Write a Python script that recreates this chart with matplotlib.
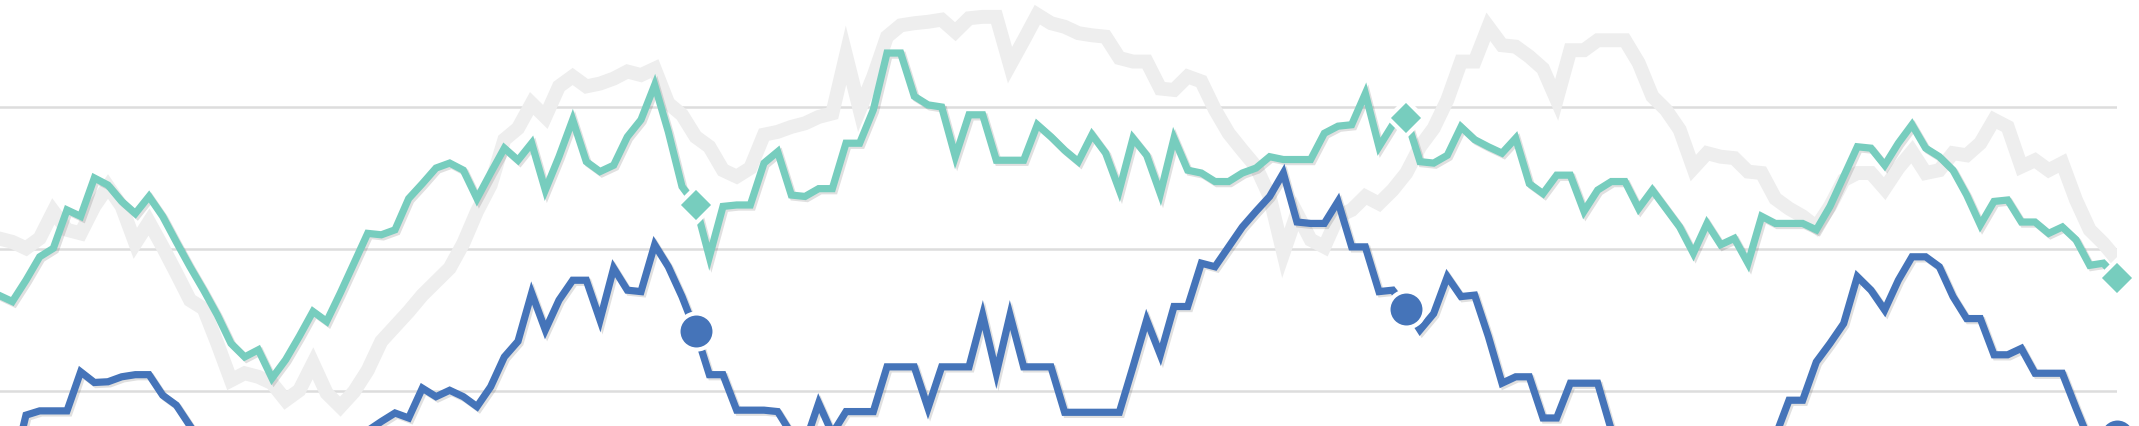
import numpy as np
import matplotlib
matplotlib.use("Agg")
import matplotlib.pyplot as plt
import matplotlib.patheffects as pe

# valeurs (gridlines a 20 / 40 / 60)
teal = [34.5, 33.5, 32.6, 35.6, 38.9, 40.1, 45.5, 44.6, 50.0, 49.0,
        46.7, 45.0, 47.4, 44.6, 41.0, 37.5, 34.2, 30.7, 26.7, 24.8,
        25.8, 21.8, 24.4, 27.7, 31.2, 29.8, 33.8, 38.0, 42.2, 42.0,
        42.7, 47.1, 49.2, 51.4, 52.1, 51.1, 47.1, 50.7, 54.2, 52.5,
        54.9, 48.3, 53.0, 58.2, 52.3, 50.9, 51.8, 55.8, 58.2, 63.1,
        56.5, 48.8, 46.2, 38.9, 46.0, 46.2, 46.2, 52.1, 53.7, 47.6,
        47.4, 48.5, 48.5, 54.9, 54.9, 59.6, 67.6, 67.6, 61.5, 60.3,
        60.0, 53.0, 58.9, 58.9, 52.5, 52.5, 52.5, 57.5, 55.8, 53.9,
        52.3, 56.1, 53.5, 48.3, 55.6, 53.2, 47.8, 55.6, 51.1, 50.7,
        49.5, 49.5, 50.7, 51.4, 53.0, 52.6, 52.6, 52.6, 56.3, 57.3,
        57.5, 61.9, 54.4, 57.5, 58.4, 52.3, 52.1, 53.2, 57.2, 55.4,
        54.4, 53.5, 55.6, 49.2, 47.8, 50.4, 50.4, 45.3, 48.3, 49.5,
        49.5, 45.7, 48.3, 45.7, 43.1, 39.4, 43.6, 40.6, 41.5, 38.0,
        44.6, 43.6, 43.6, 43.6, 42.7, 46.0, 50.2, 54.4, 54.2, 51.8,
        54.9, 57.5, 54.2, 53.0, 51.1, 47.6, 43.4, 46.7, 46.9, 43.8,
        43.8, 42.2, 43.1, 41.3, 37.7, 38.0, 35.9]

grey = [41.0, 41.5, 41.0, 40.1, 41.5, 45.3, 42.7, 42.2, 46.0, 48.8,
        46.0, 40.8, 43.8, 40.3, 36.6, 32.8, 31.6, 26.7, 21.5, 22.5,
        22.0, 21.1, 18.7, 20.1, 23.9, 19.7, 17.8, 19.9, 22.9, 27.0,
        29.1, 31.2, 33.5, 35.4, 37.3, 40.8, 45.3, 49.0, 55.4, 57.0,
        60.5, 58.6, 62.9, 64.3, 62.9, 63.3, 64.0, 65.0, 64.5, 65.4,
        60.5, 58.9, 55.8, 54.4, 51.1, 50.2, 51.4, 56.1, 56.5, 57.2,
        57.7, 58.6, 59.1, 67.3, 59.6, 64.3, 69.9, 71.5, 71.8, 72.0,
        72.3, 70.6, 72.5, 72.7, 72.7, 65.9, 69.4, 73.0, 71.8, 71.3,
        70.4, 70.1, 69.9, 66.9, 66.4, 66.4, 62.6, 62.4, 64.3, 63.6,
        59.6, 56.3, 53.9, 51.6, 47.4, 39.4, 45.0, 41.3, 40.3, 44.6,
        45.5, 47.4, 46.4, 48.3, 50.7, 54.4, 57.0, 61.0, 66.4, 66.4,
        71.3, 68.7, 68.5, 67.1, 65.4, 61.0, 68.0, 68.0, 69.4, 69.4,
        69.4, 66.2, 61.5, 59.6, 56.8, 51.4, 53.5, 53.0, 52.8, 50.9,
        50.7, 47.1, 45.7, 44.6, 43.1, 46.0, 49.7, 50.7, 50.7, 48.5,
        51.4, 53.7, 50.7, 51.1, 53.5, 53.2, 54.9, 58.2, 57.2, 51.6,
        52.5, 51.1, 52.1, 46.9, 42.7, 40.8, 38.5]

blue = [6.5, 7.5, 8.7, 16.6, 17.2, 17.2, 17.2, 22.7, 21.2, 21.3,
        22.0, 22.3, 22.3, 19.4, 18.0, 15.1, 12.0, 10.8, 9.5, 8.7,
        8.0, 8.5, 7.8, 8.8, 9.5, 10.3, 11.2, 12.4, 14.4, 15.7,
        16.9, 16.2, 20.4, 19.2, 20.1, 19.2, 17.8, 20.6, 24.8, 27.0,
        33.8, 28.6, 32.8, 35.6, 35.6, 30.0, 37.3, 34.2, 34.0, 40.6,
        37.5, 33.3, 28.4, 22.3, 22.3, 17.3, 17.3, 17.3, 17.1, 14.0,
        12.6, 18.3, 14.0, 17.1, 17.1, 17.1, 23.4, 23.4, 23.4, 17.6,
        23.4, 23.4, 23.4, 30.7, 22.5, 30.7, 23.4, 23.4, 23.4, 17.0,
        17.0, 17.0, 17.0, 17.0, 23.4, 30.0, 25.1, 31.9, 31.9, 38.0,
        37.5, 40.3, 43.1, 45.3, 47.4, 50.7, 43.8, 43.6, 43.6, 46.7,
        40.3, 40.3, 34.0, 34.2, 31.6, 28.6, 30.9, 36.1, 33.3, 33.5,
        27.7, 21.1, 22.0, 22.0, 16.2, 16.2, 21.1, 21.1, 21.1, 14.5,
        12.0, 10.5, 9.8, 10.6, 9.4, 8.8, 9.9, 10.8, 11.6, 12.3,
        12.9, 13.6, 18.7, 18.7, 24.1, 26.7, 29.5, 36.1, 34.2, 31.4,
        35.6, 38.9, 38.9, 37.5, 33.3, 30.2, 30.2, 25.1, 25.1, 26.0,
        22.5, 22.5, 22.5, 17.6, 12.9, 12.5, 13.7]

marker_idx = [52, 104, 156]

teal_color = '#77CDBE'
blue_color = '#4574B9'
grey_color = '#EEEEEE'

x = np.arange(len(teal))

fig = plt.figure(figsize=(21.39, 4.26), dpi=100)
ax = fig.add_axes([0, 0, 2117 / 2139, 1])

shadow = [pe.SimpleLineShadow(offset=(1.5, -1.5), shadow_color='black', alpha=0.12), pe.Normal()]

ax.plot(x, grey, color=grey_color, lw=10, solid_joinstyle='miter', zorder=2)
ax.plot(x, teal, color=teal_color, lw=5.2, solid_joinstyle='miter', zorder=3, path_effects=shadow)
ax.plot(x, blue, color=blue_color, lw=5.2, solid_joinstyle='miter', zorder=3, path_effects=shadow)

# marqueurs (losanges / ronds) avec bord blanc
ax.plot(x[marker_idx], np.array(teal)[marker_idx], ls='none', marker='D', ms=18,
        mfc=teal_color, mec='white', mew=3, zorder=5, clip_on=False)
ax.plot(x[marker_idx], np.array(blue)[marker_idx], ls='none', marker='o', ms=26,
        mfc=blue_color, mec='white', mew=3, zorder=5, clip_on=False)

ax.set_xlim(15 / 13.667, 156)
ax.set_ylim(15.07, 75.07)
ax.set_yticks([20, 40, 60])
ax.grid(axis='y', color='#DDDDDD', lw=1.8)
ax.set_axisbelow(True)
ax.tick_params(left=False, bottom=False, labelleft=False, labelbottom=False)
ax.set_xticks([])
for s in ax.spines.values():
    s.set_visible(False)

fig.savefig('out.png', dpi=100)
